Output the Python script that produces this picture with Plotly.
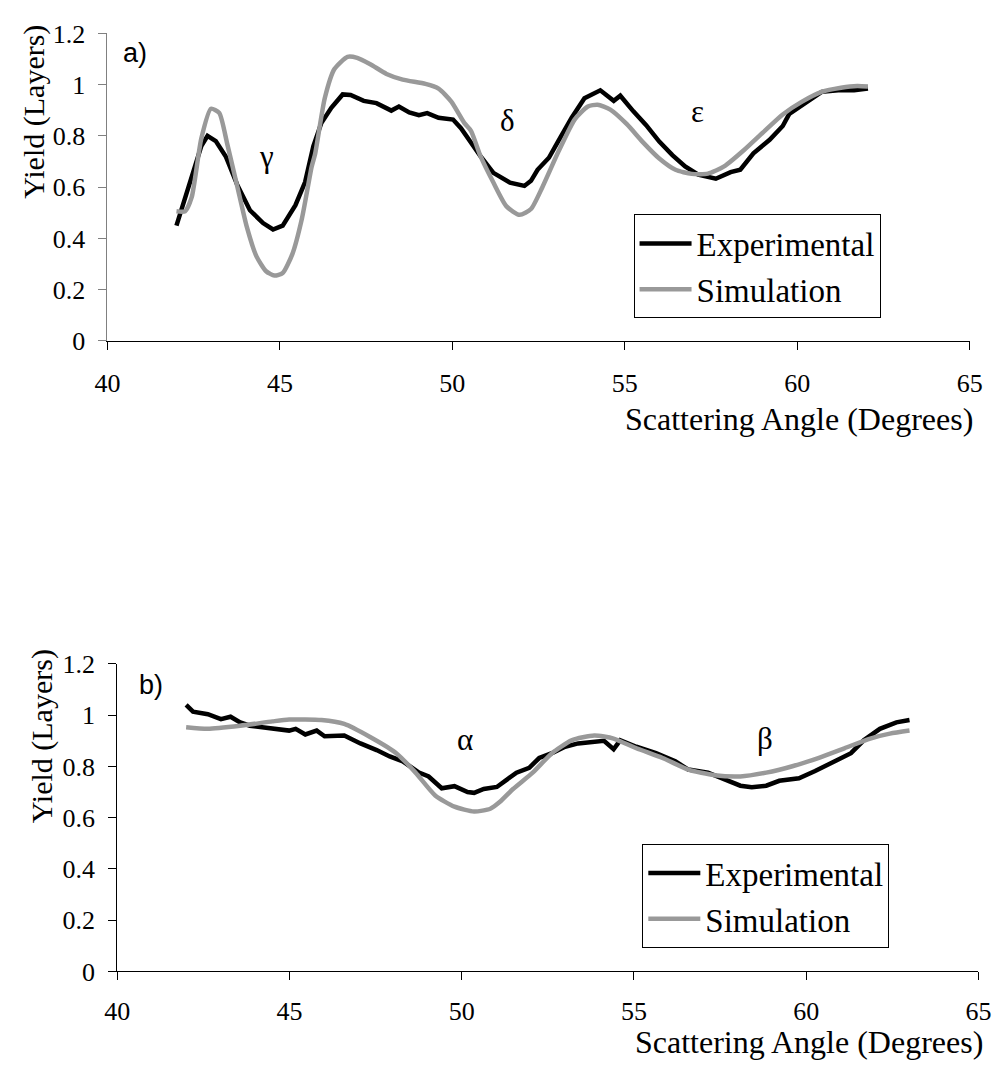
import plotly.graph_objects as go

# ---------------- data: panel a) ----------------
a_exp_x = [42.0, 42.44, 42.72, 42.9, 43.14, 43.43, 43.76, 44.13, 44.51, 44.8, 45.08, 45.45,
           45.73, 45.97, 46.2, 46.49, 46.82, 47.05, 47.43, 47.8, 48.23, 48.45, 48.75, 49.03,
           49.27, 49.6, 50.02, 50.25, 50.54, 50.82, 51.19, 51.67, 52.09, 52.28, 52.47, 52.8,
           53.08, 53.46, 53.83, 54.07, 54.29, 54.68, 54.87, 55.25, 55.62, 56.0, 56.38, 56.75,
           57.13, 57.64, 58.07, 58.35, 58.73, 59.2, 59.58, 59.77, 60.14, 60.71, 61.27, 61.65,
           62.05]
a_exp_y = [0.45, 0.64, 0.76, 0.80, 0.78, 0.72, 0.61, 0.51, 0.46, 0.435, 0.45, 0.53,
           0.62, 0.76, 0.85, 0.91, 0.962, 0.96, 0.937, 0.928, 0.899, 0.915, 0.892, 0.881,
           0.889, 0.871, 0.864, 0.83, 0.77, 0.72, 0.656, 0.618, 0.605, 0.625, 0.668, 0.715,
           0.782, 0.871, 0.947, 0.962, 0.978, 0.937, 0.957, 0.896, 0.842, 0.778, 0.725, 0.681,
           0.649, 0.633, 0.659, 0.668, 0.732, 0.785, 0.839, 0.886, 0.92, 0.972, 0.979, 0.978,
           0.985]

a_sim_x = [42.0, 42.25, 42.44, 42.72, 43.0, 43.24, 43.47, 43.76, 44.04, 44.32, 44.6, 44.84,
           45.08, 45.36, 45.64, 45.92, 46.02, 46.3, 46.58, 46.96, 47.24, 47.62, 48.09, 48.56,
           49.22, 49.6, 49.97, 50.35, 50.54, 50.82, 51.19, 51.57, 51.95, 52.28, 52.61, 53.08,
           53.55, 53.93, 54.21, 54.58, 55.06, 55.53, 56.0, 56.47, 56.94, 57.41, 57.88, 58.45,
           59.01, 59.58, 60.14, 60.71, 61.27, 61.74, 62.05]
a_sim_y = [0.506, 0.506, 0.56, 0.79, 0.906, 0.89, 0.77, 0.605, 0.445, 0.33, 0.272, 0.255,
           0.265, 0.339, 0.479, 0.68, 0.73, 0.947, 1.061, 1.109, 1.105, 1.08, 1.042, 1.02,
           1.003, 0.985, 0.934, 0.85, 0.82, 0.72, 0.618, 0.525, 0.492, 0.515, 0.6, 0.74,
           0.865, 0.915, 0.922, 0.903, 0.846, 0.775, 0.712, 0.668, 0.652, 0.653, 0.681, 0.744,
           0.814, 0.884, 0.934, 0.972, 0.988, 0.995, 0.993]

# ---------------- data: panel b) ----------------
b_exp_x = [42.0, 42.2, 42.63, 43.01, 43.29, 43.57, 43.85, 44.42, 44.99, 45.18, 45.46, 45.79,
           46.02, 46.59, 47.06, 47.53, 47.91, 48.29, 48.76, 49.04, 49.42, 49.79, 50.17, 50.36,
           50.64, 51.02, 51.59, 51.96, 52.25, 52.62, 53.0, 53.38, 53.75, 54.13, 54.41, 54.6,
           55.07, 55.64, 56.2, 56.58, 57.15, 57.71, 58.09, 58.42, 58.84, 59.22, 59.79, 60.26,
           60.73, 61.3, 61.67, 62.14, 62.62, 63.0]
b_exp_y = [1.04, 1.014, 1.004, 0.985, 0.994, 0.972, 0.959, 0.951, 0.94, 0.947, 0.925, 0.94,
           0.918, 0.921, 0.89, 0.864, 0.839, 0.82, 0.776, 0.761, 0.715, 0.723, 0.70, 0.697,
           0.712, 0.72, 0.776, 0.795, 0.833, 0.852, 0.877, 0.89, 0.896, 0.90, 0.867, 0.902,
           0.877, 0.852, 0.82, 0.788, 0.776, 0.744, 0.725, 0.719, 0.725, 0.744, 0.754, 0.782,
           0.814, 0.852, 0.902, 0.947, 0.972, 0.981]

b_sim_x = [42.0, 42.63, 43.57, 44.51, 44.99, 45.93, 46.59, 47.34, 48.1, 48.66, 49.23, 49.79,
           50.36, 50.83, 51.11, 51.49, 52.06, 52.62, 53.19, 53.85, 54.41, 55.07, 55.83, 56.58,
           57.34, 58.09, 58.84, 59.6, 60.35, 61.11, 61.86, 62.43, 63.0]
b_sim_y = [0.953, 0.947, 0.959, 0.976, 0.983, 0.981, 0.966, 0.915, 0.852, 0.776, 0.687, 0.643,
           0.624, 0.635, 0.662, 0.712, 0.776, 0.852, 0.902, 0.921, 0.909, 0.871, 0.833, 0.788,
           0.766, 0.761, 0.776, 0.801, 0.833, 0.871, 0.909, 0.928, 0.94]

x_ticks = [40, 45, 50, 55, 60, 65]
y_ticks = [0, 0.2, 0.4, 0.6, 0.8, 1.0, 1.2]
y_tick_text = ["0", "0.2", "0.4", "0.6", "0.8", "1", "1.2"]
series_names = ["Experimental", "Simulation"]
x_title = "Scattering Angle (Degrees)"
y_title = "Yield (Layers)"

W, H = 1007, 1075
SERIF = "Liberation Serif"
SANS = "Liberation Sans"
BLACK = "#000000"
GRAY = "#999999"


def px(v):
    return v / W


def py(v):
    return 1 - v / H


fig = go.Figure()

fig.add_trace(go.Scatter(x=a_exp_x, y=a_exp_y, mode="lines", name=series_names[0],
                         line=dict(color=BLACK, width=4.5), xaxis="x", yaxis="y", legend="legend"))
fig.add_trace(go.Scatter(x=a_sim_x, y=a_sim_y, mode="lines", name=series_names[1],
                         line=dict(color=GRAY, width=4.5, shape="spline", smoothing=0.6),
                         xaxis="x", yaxis="y", legend="legend"))
fig.add_trace(go.Scatter(x=b_exp_x, y=b_exp_y, mode="lines", name=series_names[0],
                         line=dict(color=BLACK, width=4.5), xaxis="x2", yaxis="y2", legend="legend2"))
fig.add_trace(go.Scatter(x=b_sim_x, y=b_sim_y, mode="lines", name=series_names[1],
                         line=dict(color=GRAY, width=4.5, shape="spline", smoothing=0.6),
                         xaxis="x2", yaxis="y2", legend="legend2"))

tick_font = dict(family=SERIF, size=26, color="black")


def xaxis(domain, anchor, standoff):
    return dict(domain=domain, anchor=anchor, range=[40, 65], tickvals=x_ticks,
                showline=True, linecolor="black", linewidth=1, ticks="outside",
                ticklen=8, tickcolor="black", tickwidth=1, showgrid=False, zeroline=False,
                tickfont=tick_font, ticklabelstandoff=standoff, fixedrange=True)


def yaxis(domain, anchor, color):
    return dict(domain=domain, anchor=anchor, range=[0, 1.2], tickvals=y_ticks,
                ticktext=y_tick_text, showline=True, linecolor=color, linewidth=1,
                ticks="outside", ticklen=8, tickcolor=color, tickwidth=1, showgrid=False,
                zeroline=False, tickfont=tick_font, ticklabelstandoff=8, fixedrange=True)


legend_common = dict(bgcolor="white", bordercolor="black", borderwidth=1,
                     font=dict(family=SERIF, size=33, color="black"), itemwidth=52,
                     xanchor="left", yanchor="top", tracegroupgap=0,
                     itemclick=False, itemdoubleclick=False)

fig.update_layout(
    width=W, height=H,
    margin=dict(l=0, r=0, t=0, b=0),
    paper_bgcolor="white", plot_bgcolor="white",
    showlegend=True,
    xaxis=xaxis([px(97), px(982)], "y", 11),
    yaxis=yaxis([py(336), py(20)], "x", "#808080"),
    xaxis2=xaxis([px(107), px(991)], "y2", 8),
    yaxis2=yaxis([py(984), py(668)], "x2", "black"),
    legend=dict(x=px(637), y=py(206), **legend_common),
    legend2=dict(x=px(646), y=py(853), **legend_common),
)

annotations = [
    # axis titles
    dict(x=px(988), y=py(416), text=x_title, xanchor="right", yanchor="middle",
         font=dict(family=SERIF, size=32, color="black")),
    dict(x=px(998), y=py(1057), text=x_title, xanchor="right", yanchor="middle",
         font=dict(family=SERIF, size=32, color="black")),
    dict(x=px(22), y=py(100), text=y_title, textangle=-90, xanchor="center", yanchor="middle",
         font=dict(family=SERIF, size=30, color="black")),
    dict(x=px(30), y=py(742), text=y_title, textangle=-90, xanchor="center", yanchor="middle",
         font=dict(family=SERIF, size=30, color="black")),
    # panel labels
    dict(x=px(125), y=py(40), text="a)", xanchor="center", yanchor="middle",
         font=dict(family=SANS, size=27, color="black")),
    dict(x=px(142), y=py(690), text="b)", xanchor="center", yanchor="middle",
         font=dict(family=SANS, size=27, color="black")),
]
greek = [("γ", 44.6, 0.72, "x", "y"), ("δ", 51.6, 0.86, "x", "y"), ("ε", 57.1, 0.895, "x", "y"),
         ("α", 50.1, 0.905, "x2", "y2"), ("β", 58.8, 0.91, "x2", "y2")]
for t, gx, gy, xr, yr in greek:
    annotations.append(dict(x=gx, y=gy, xref=xr, yref=yr, text=t, showarrow=False,
                            font=dict(family=SERIF, size=31, color="black")))
for a in annotations:
    a.setdefault("xref", "paper")
    a.setdefault("yref", "paper")
    a["showarrow"] = False
fig.update_layout(annotations=annotations)

# remove the default page margin so the figure fills the window exactly
fig.write_html("out.html", config={"displayModeBar": False},
               post_script="document.body.style.margin='0';document.body.style.overflow='hidden';")
